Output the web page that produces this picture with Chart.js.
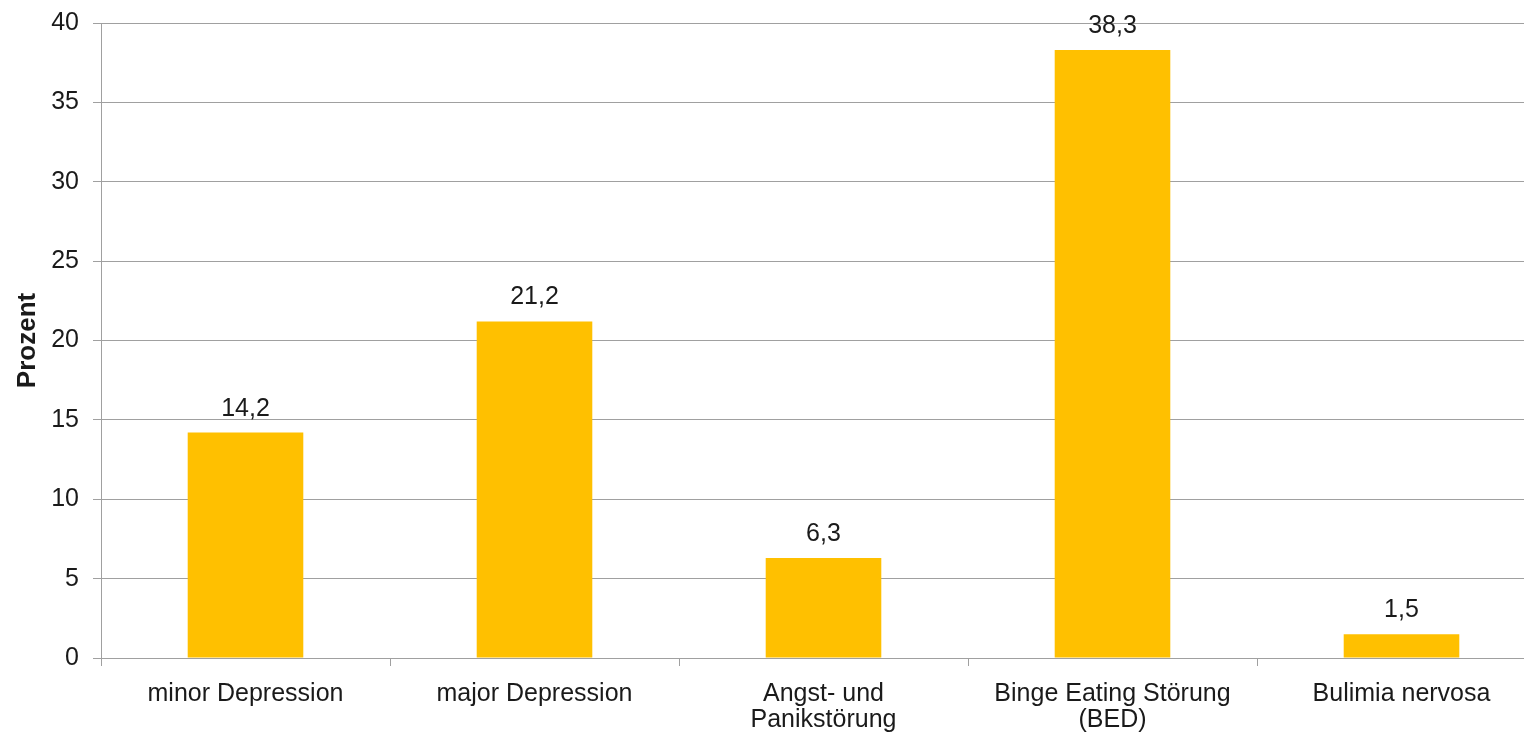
<!DOCTYPE html>
<html>
<head>
<meta charset="utf-8">
<script src="https://cdn.jsdelivr.net/npm/chart.js@4/dist/chart.umd.min.js"></script>
<style>
html, body { margin: 0; padding: 0; background: #fff; overflow: hidden; }
#wrap { position: relative; width: 1546px; height: 734px; }
</style>
</head>
<body>
<div id="wrap"><canvas id="c"></canvas></div>
<script>
const categories = [
  "minor Depression",
  "major Depression",
  ["Angst- und", "Panikstörung"],
  ["Binge Eating Störung", "(BED)"],
  "Bulimia nervosa"
];
const values = [14.2, 21.2, 6.3, 38.3, 1.5];
const yTicks = [0, 5, 10, 15, 20, 25, 30, 35, 40];
const yTitle = "Prozent";

const FONT = "'Liberation Sans', Arial, sans-serif";
const GRID = "#a0a0a0";
const TEXT = "#1a1a1a";

const valueLabels = {
  id: 'valueLabels',
  afterDatasetsDraw(chart) {
    const ctx = chart.ctx;
    const meta = chart.getDatasetMeta(0);
    ctx.save();
    ctx.font = "25px " + FONT;
    ctx.fillStyle = TEXT;
    ctx.textAlign = 'center';
    ctx.textBaseline = 'alphabetic';
    meta.data.forEach((bar, i) => {
      const txt = values[i].toFixed(1).replace('.', ',');
      ctx.fillText(txt, bar.x, bar.y - 17);
    });
    ctx.restore();
  }
};

new Chart(document.getElementById('c'), {
  type: 'bar',
  data: {
    labels: categories,
    datasets: [{
      data: values,
      backgroundColor: '#FFC000',
      borderWidth: 0,
      barPercentage: 0.4,
      categoryPercentage: 1.0
    }]
  },
  options: {
    responsive: true,
    maintainAspectRatio: false,
    animation: false,
    layout: { padding: { top: 0, right: 0, bottom: 0, left: 0 } },
    plugins: { legend: { display: false }, tooltip: { enabled: false } },
    scales: {
      x: {
        offset: true,
        afterFit(scale) { scale.height = 76; },
        grid: { offset: true, drawOnChartArea: false, drawTicks: true, tickLength: 8, color: GRID, lineWidth: 1 },
        border: { color: GRID, width: 1 },
        ticks: {
          color: TEXT, padding: 15, maxRotation: 0, autoSkip: false,
          font: { family: FONT, size: 25, lineHeight: 1.05 }
        }
      },
      y: {
        min: 0, max: 40,
        afterBuildTicks(scale) { scale.ticks = yTicks.map(v => ({ value: v })); },
        afterFit(scale) { scale.width = 101; scale.paddingTop = 23; },
        grid: { color: GRID, lineWidth: 1, tickLength: 8 },
        border: { color: GRID, width: 1 },
        ticks: {
          color: TEXT, padding: 14,
          font: { family: FONT, size: 25, lineHeight: 0.8 }
        },
        title: {
          display: true, text: yTitle, color: TEXT,
          font: { family: FONT, size: 26, weight: 'bold' },
          padding: { top: 12, bottom: 0 }
        }
      }
    }
  },
  plugins: [valueLabels]
});
</script>
</body>
</html>
